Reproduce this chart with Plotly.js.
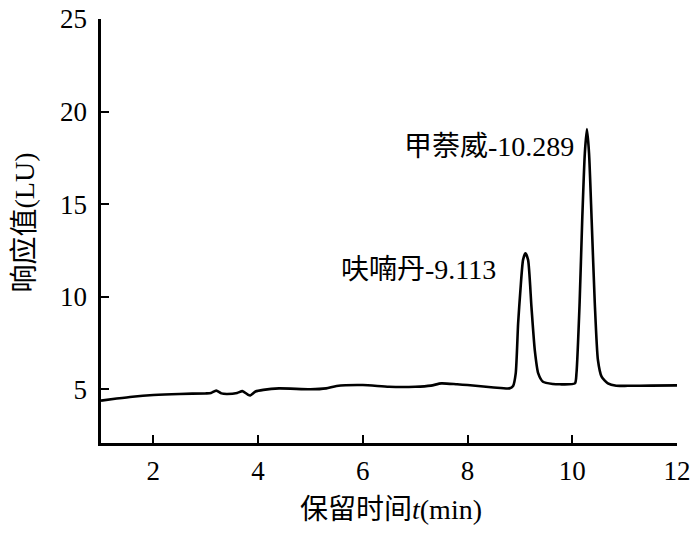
<!DOCTYPE html>
<html>
<head>
<meta charset="utf-8">
<script src="https://cdn.plot.ly/plotly-3.0.1.min.js"></script>
<style>html,body{margin:0;padding:0;background:#fff;}#chart{width:700px;height:534px;}</style>
</head>
<body>
<div id="chart"></div>
<script>
// Retention time (min)
const time = [1.0, 1.3, 1.6, 2.0, 2.5, 3.0, 3.1, 3.2, 3.3, 3.4, 3.6, 3.7, 3.8, 3.85, 3.95, 4.1, 4.4, 5.0, 5.3, 5.5, 6.0, 6.5, 7.0, 7.3, 7.5, 7.8, 8.0, 8.5, 8.8, 8.87, 8.92, 8.966, 9.01, 9.06, 9.105, 9.156, 9.22, 9.284, 9.35, 9.44, 9.63, 9.76, 10.05, 10.08, 10.14, 10.19, 10.24, 10.28, 10.32, 10.37, 10.43, 10.49, 10.56, 10.68, 10.84, 11.06, 11.5, 12.0];
// Response (LU)
const signal = [4.39, 4.5, 4.6, 4.69, 4.75, 4.78, 4.8, 4.93, 4.78, 4.75, 4.8, 4.9, 4.72, 4.67, 4.88, 4.97, 5.05, 5.0, 5.05, 5.18, 5.23, 5.14, 5.14, 5.2, 5.32, 5.27, 5.23, 5.1, 5.05, 5.18, 5.86, 8.57, 10.37, 11.99, 12.35, 11.99, 9.47, 7.12, 5.86, 5.41, 5.29, 5.27, 5.32, 5.86, 9.65, 14.15, 17.76, 19.05, 17.76, 14.15, 9.65, 6.58, 5.68, 5.32, 5.19, 5.19, 5.2, 5.21];
const peakLabels = ["呋喃丹-9.113", "甲萘威-10.289"];
const peakLabelX = [8.58, 10.08];
const peakLabelY = [11.45, 18.1];
const xTicks = [2, 4, 6, 8, 10, 12];
const yTicks = [5, 10, 15, 20, 25];
const xTitle = "保留时间<i>t</i>(min)";
const yTitle = "响应值(LU)";

const FONT = "Liberation Serif, Noto Sans CJK SC, serif";

const annotations = peakLabels.map((t, i) => ({
  x: peakLabelX[i], y: peakLabelY[i], xref: 'x', yref: 'y',
  text: t, showarrow: false, xanchor: 'right', yanchor: 'middle',
  font: {family: FONT, size: 28, color: '#000'}
}));
annotations.push({
  x: 0.503, y: -0.157, xref: 'paper', yref: 'paper', text: xTitle, showarrow: false,
  xanchor: 'center', yanchor: 'middle', font: {family: FONT, size: 28, color: '#000'}
});
annotations.push({
  x: -0.132, y: 0.52, xref: 'paper', yref: 'paper', text: yTitle, showarrow: false,
  textangle: -90, xanchor: 'center', yanchor: 'middle', font: {family: FONT, size: 28, color: '#000'}
});

const trace = {
  x: time, y: signal, type: 'scatter', mode: 'lines',
  line: {color: '#000', width: 2.6, shape: 'spline', smoothing: 0.6},
  hoverinfo: 'skip'
};

const layout = {
  width: 700, height: 534,
  margin: {l: 101, r: 23, t: 19, b: 91},
  paper_bgcolor: '#fff', plot_bgcolor: '#fff',
  showlegend: false,
  font: {family: FONT, color: '#000'},
  xaxis: {
    range: [1, 12], tickvals: xTicks, ticktext: xTicks.map(String),
    ticks: 'inside', ticklen: 8, tickwidth: 2, tickcolor: '#000',
    showline: true, linecolor: '#000', linewidth: 2.6, mirror: false,
    showgrid: false, zeroline: false,
    tickfont: {family: FONT, size: 27, color: '#000'}, ticklabelstandoff: 2
  },
  yaxis: {
    range: [2.1, 25], tickvals: yTicks, ticktext: yTicks.map(String),
    ticks: 'inside', ticklen: 8, tickwidth: 2, tickcolor: '#000',
    showline: true, linecolor: '#000', linewidth: 2.6, mirror: false,
    showgrid: false, zeroline: false,
    tickfont: {family: FONT, size: 27, color: '#000'}, ticklabelstandoff: 6
  },
  annotations: annotations
};

Plotly.newPlot('chart', [trace], layout, {displayModeBar: false, staticPlot: true});
</script>
</body>
</html>
